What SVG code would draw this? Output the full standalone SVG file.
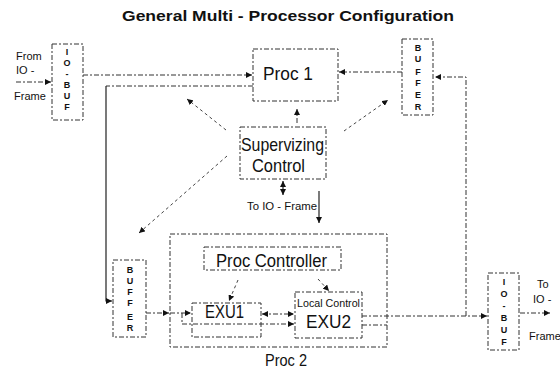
<svg xmlns="http://www.w3.org/2000/svg" width="560" height="368" viewBox="0 0 560 368">
<style>
  text { font-family: "Liberation Sans", Arial, sans-serif; fill: #111; }
  .box { fill: none; stroke: #333; stroke-width: 1; stroke-dasharray: 5 2 2 2; }
  .title { font-size: 15px; font-weight: bold; }
  .big { font-size: 18px; }
  .med { font-size: 16px; }
  .small { font-size: 11px; }
  .vert { font-size: 9px; font-weight: bold; text-anchor: middle; }
  .c { fill: none; stroke: #333; stroke-width: 1; stroke-dasharray: 5 2 2 2; }
  .dot { fill: none; stroke: #444; stroke-width: 1; stroke-dasharray: 3 3; }
  .solid { fill: none; stroke: #222; stroke-width: 1.2; }
</style>
<defs>
  <marker id="ah" viewBox="0 0 6 6" refX="6" refY="3" markerWidth="6" markerHeight="6" markerUnits="userSpaceOnUse" orient="auto-start-reverse">
    <path d="M0,0 L6,3 L0,6 z" fill="#111"/>
  </marker>
</defs>
<rect width="560" height="368" fill="#fff"/>

<text class="title" x="288" y="21" text-anchor="middle" textLength="332" lengthAdjust="spacingAndGlyphs">General Multi - Processor Configuration</text>

<g id="io-buf-in">
  <rect class="box" x="52" y="44" width="31" height="76"/>
  <text class="vert" x="67" y="55">I</text>
  <text class="vert" x="67" y="66">O</text>
  <text class="vert" x="67" y="77">-</text>
  <text class="vert" x="67" y="88">B</text>
  <text class="vert" x="67" y="99">U</text>
  <text class="vert" x="67" y="110">F</text>
  <text class="small" x="16" y="60">From</text>
  <text class="small" x="16" y="74">IO -</text>
  <text class="small" x="14" y="100">Frame</text>
</g>

<g id="proc1">
  <rect class="box" x="253" y="49" width="85" height="52"/>
  <text class="big" x="263" y="80" textLength="50" lengthAdjust="spacingAndGlyphs">Proc   1</text>
</g>

<g id="buffer-top">
  <rect class="box" x="402" y="39" width="31" height="76"/>
  <text class="vert" x="418" y="51">B</text>
  <text class="vert" x="418" y="62">U</text>
  <text class="vert" x="418" y="75">F</text>
  <text class="vert" x="418" y="86">F</text>
  <text class="vert" x="418" y="98">E</text>
  <text class="vert" x="418" y="110">R</text>
</g>

<g id="supervizing">
  <rect class="box" x="240" y="127" width="86" height="52"/>
  <text x="241" y="151" font-size="19" textLength="83" lengthAdjust="spacingAndGlyphs">Supervizing</text>
  <text x="252" y="172" font-size="19" textLength="53" lengthAdjust="spacingAndGlyphs">Control</text>
  <text class="small" x="247" y="210" textLength="70" lengthAdjust="spacingAndGlyphs">To IO - Frame</text>
</g>

<g id="proc2">
  <rect class="box" x="170" y="234" width="217" height="113"/>
  <text class="med" x="265" y="366" textLength="42" lengthAdjust="spacingAndGlyphs">Proc 2</text>
</g>

<g id="proc-controller">
  <rect class="box" x="204" y="247" width="137" height="23"/>
  <text x="216" y="267" font-size="18" textLength="111" lengthAdjust="spacingAndGlyphs">Proc Controller</text>
</g>

<g id="exu1">
  <rect class="box" x="192" y="303" width="69" height="34"/>
  <text x="205" y="318" font-size="18" textLength="39" lengthAdjust="spacingAndGlyphs">EXU1</text>
</g>

<g id="exu2">
  <rect class="box" x="295" y="292" width="67" height="46"/>
  <text x="297" y="307" font-size="11" textLength="63" lengthAdjust="spacingAndGlyphs">Local Control</text>
  <text x="306" y="328" font-size="18" textLength="45" lengthAdjust="spacingAndGlyphs">EXU2</text>
</g>

<g id="buffer-bottom">
  <rect class="box" x="113" y="260" width="33" height="77"/>
  <text class="vert" x="130" y="273">B</text>
  <text class="vert" x="130" y="284">U</text>
  <text class="vert" x="130" y="295">F</text>
  <text class="vert" x="130" y="306">F</text>
  <text class="vert" x="130" y="320">E</text>
  <text class="vert" x="130" y="331">R</text>
</g>

<g id="io-buf-out">
  <rect class="box" x="488" y="273" width="31" height="77"/>
  <text class="vert" x="504" y="285">I</text>
  <text class="vert" x="504" y="297">O</text>
  <text class="vert" x="504" y="309">-</text>
  <text class="vert" x="504" y="321">B</text>
  <text class="vert" x="504" y="333">U</text>
  <text class="vert" x="504" y="345">F</text>
  <text class="small" x="537" y="288">To</text>
  <text class="small" x="533" y="303">IO -</text>
  <text class="small" x="529" y="340">Frame</text>
</g>

<g id="connectors">
  <path class="c" d="M16,82 H51" marker-end="url(#ah)"/>
  <path class="c" d="M83,75 H252" marker-end="url(#ah)"/>
  <path class="c" d="M253,86 H106"/>
  <path class="solid" d="M106,86 V301 H112" marker-end="url(#ah)"/>
  <path class="c" d="M297,123 V109" marker-end="url(#ah)"/>
  <path class="dot" d="M226,130 L187,99" marker-end="url(#ah)"/>
  <path class="dot" d="M344,131 L388,100" marker-end="url(#ah)"/>
  <path class="dot" d="M227,156 L139,233" marker-end="url(#ah)"/>
  <path class="c" d="M402,72 H339" marker-end="url(#ah)"/>
  <path class="solid" d="M283,181 V195" marker-start="url(#ah)" marker-end="url(#ah)"/>
  <path class="solid" d="M319,191 V223" marker-end="url(#ah)"/>
  <path class="c" d="M146,313 H169" marker-end="url(#ah)"/>
  <path class="c" d="M170,313 H191" marker-end="url(#ah)"/>
  <path class="c" d="M182,313 V324 H294" marker-end="url(#ah)"/>
  <path class="c" d="M262,314 H294" marker-start="url(#ah)" marker-end="url(#ah)"/>
  <path class="dot" d="M238,280 L229,301" marker-end="url(#ah)"/>
  <path class="dot" d="M318,279 L329,291" marker-end="url(#ah)"/>
  <path class="c" d="M362,316 H487" marker-end="url(#ah)"/>
  <path class="c" d="M362,325 H387"/>
  <path class="c" d="M466,316 V77 H435" marker-end="url(#ah)"/>
  <path class="c" d="M520,313 H550" marker-end="url(#ah)"/>
</g>
</svg>
